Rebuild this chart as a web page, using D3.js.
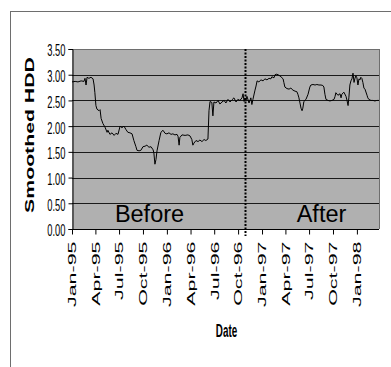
<!DOCTYPE html>
<html>
<head>
<meta charset="utf-8">
<script src="https://cdn.jsdelivr.net/npm/d3@7"></script>
<style>
  html, body { margin: 0; padding: 0; background: #fff; }
  svg { display: block; font-family: "Liberation Sans", Arial, sans-serif; }
</style>
</head>
<body>
<svg id="chart" width="391" height="367"></svg>
<script>
// Smoothed HDD series: observation dates and values
const dates = [
  "1995-01-01","1995-01-13","1995-01-24","1995-02-05","1995-02-16","1995-02-20","1995-02-24","1995-02-28",
  "1995-03-07","1995-03-15","1995-03-23","1995-03-27","1995-03-30","1995-04-03","1995-04-07","1995-04-15",
  "1995-04-19","1995-04-23","1995-04-30","1995-05-08","1995-05-16","1995-05-19","1995-05-27","1995-06-04",
  "1995-06-12","1995-06-19","1995-06-27","1995-07-05","1995-07-12","1995-07-20","1995-07-28","1995-08-04",
  "1995-08-12","1995-08-20","1995-08-27","1995-09-04","1995-09-08","1995-09-16","1995-09-23","1995-10-01",
  "1995-10-09","1995-10-16","1995-10-24","1995-11-01","1995-11-09","1995-11-12","1995-11-16","1995-11-20",
  "1995-11-24","1995-12-02","1995-12-09","1995-12-17","1995-12-25","1996-01-01","1996-01-09","1996-01-17",
  "1996-01-24","1996-02-01","1996-02-09","1996-02-13","1996-02-17","1996-02-20","1996-02-28","1996-03-11",
  "1996-03-22","1996-03-30","1996-04-06","1996-04-10","1996-04-14","1996-04-22","1996-04-30","1996-05-07",
  "1996-05-15","1996-05-23","1996-05-30","1996-06-07","1996-06-11","1996-06-15","1996-06-22","1996-06-26",
  "1996-06-30","1996-07-08","1996-07-16","1996-07-23","1996-07-31","1996-08-08","1996-08-15","1996-08-23",
  "1996-08-31","1996-09-07","1996-09-15","1996-09-23","1996-09-30","1996-10-08","1996-10-16","1996-10-20",
  "1996-10-24","1996-10-27","1996-10-31","1996-11-04","1996-11-12","1996-11-19","1996-11-23","1996-11-27",
  "1996-12-05","1996-12-09","1996-12-13","1996-12-20","1996-12-28","1997-01-05","1997-01-12","1997-01-20",
  "1997-01-28","1997-02-04","1997-02-08","1997-02-16","1997-02-20","1997-02-27","1997-03-07","1997-03-15",
  "1997-03-23","1997-03-26","1997-03-30","1997-04-07","1997-04-15","1997-04-22","1997-04-30","1997-05-08",
  "1997-05-15","1997-05-19","1997-05-23","1997-05-27","1997-05-31","1997-06-04","1997-06-07","1997-06-11",
  "1997-06-19","1997-06-27","1997-07-04","1997-07-08","1997-07-16","1997-07-24","1997-07-31","1997-08-08",
  "1997-08-16","1997-08-23","1997-08-27","1997-08-31","1997-09-04","1997-09-12","1997-09-19","1997-09-27",
  "1997-10-05","1997-10-09","1997-10-12","1997-10-20","1997-10-28","1997-11-01","1997-11-04","1997-11-12",
  "1997-11-20","1997-11-24","1997-11-28","1997-12-01","1997-12-05","1997-12-09","1997-12-13","1997-12-17",
  "1997-12-21","1997-12-24","1997-12-28","1998-01-01","1998-01-05","1998-01-09","1998-01-13","1998-01-16",
  "1998-01-20","1998-01-24","1998-01-28","1998-02-01","1998-02-09","1998-02-12","1998-02-16","1998-02-24",
  "1998-03-04","1998-03-11","1998-03-19","1998-03-27"
];
const hdd = [
  2.86,2.87,2.86,2.88,2.87,2.93,2.80,2.95,
  2.93,2.95,2.92,2.80,2.65,2.40,2.33,2.30,
  2.32,2.15,2.05,1.98,1.88,1.92,1.84,1.87,
  1.82,1.86,1.84,2.00,1.97,2.00,1.93,1.88,
  1.87,1.85,1.72,1.60,1.53,1.52,1.53,1.60,
  1.61,1.63,1.59,1.60,1.54,1.48,1.26,1.35,
  1.52,1.72,1.88,1.92,1.86,1.85,1.87,1.84,
  1.85,1.83,1.84,1.80,1.63,1.78,1.83,1.82,
  1.83,1.81,1.74,1.63,1.67,1.72,1.70,1.73,
  1.70,1.74,1.72,1.75,2.30,2.48,2.46,2.20,
  2.47,2.45,2.50,2.43,2.47,2.50,2.45,2.52,
  2.47,2.51,2.55,2.47,2.52,2.50,2.55,2.63,
  2.48,2.55,2.50,2.58,2.45,2.55,2.42,2.52,
  2.70,2.78,2.88,2.86,2.90,2.88,2.92,2.90,
  2.93,2.92,2.96,2.94,3.00,3.01,2.99,2.96,
  2.92,2.85,2.76,2.73,2.72,2.74,2.70,2.68,
  2.67,2.62,2.55,2.45,2.35,2.30,2.35,2.48,
  2.52,2.62,2.76,2.80,2.81,2.80,2.81,2.80,
  2.80,2.79,2.76,2.62,2.52,2.50,2.49,2.50,
  2.52,2.58,2.65,2.60,2.63,2.55,2.62,2.66,
  2.58,2.50,2.40,2.55,2.80,2.88,2.92,3.03,
  2.85,2.92,2.98,2.94,2.80,2.92,2.90,2.95,
  2.93,2.85,2.74,2.72,2.60,2.55,2.52,2.50,
  2.50,2.49,2.50,2.50
];
const yTicks = [0, 0.5, 1, 1.5, 2, 2.5, 3, 3.5];
const xDomain = ["1995-01-01", "1998-03-27"];
const breakDate = "1996-10-27";
const periodLabels = ["Before", "After"];
const xTitle = "Date";
const yTitle = "Smoothed HDD";

const parse = d3.timeParse("%Y-%m-%d");
const series = dates.map((d, i) => ({ date: parse(d), value: hdd[i] }));

const svg = d3.select("#chart");
const plot = { left: 72, right: 379, top: 49, bottom: 229 };

// Outer chart frame
svg.append("rect")
  .attr("x", 10.5).attr("y", 11.5)
  .attr("width", 420).attr("height", 420)
  .attr("fill", "#fff").attr("stroke", "#6e6e6e").attr("stroke-width", 1);

const x = d3.scaleTime()
  .domain(xDomain.map(parse))
  .range([plot.left, plot.right]);
const y = d3.scaleLinear()
  .domain([0, 3.5])
  .range([plot.bottom, plot.top]);

// Plot area
svg.append("rect")
  .attr("x", plot.left).attr("y", plot.top)
  .attr("width", plot.right - plot.left).attr("height", plot.bottom - plot.top)
  .attr("fill", "#b0b0b0");

// Horizontal gridlines
svg.append("g").selectAll("line")
  .data(yTicks.filter(v => v > 0))
  .join("line")
  .attr("x1", plot.left).attr("x2", plot.right)
  .attr("y1", d => Math.round(y(d)) + 0.5).attr("y2", d => Math.round(y(d)) + 0.5)
  .attr("stroke", d => d === 3.5 ? "#6e6e6e" : "#1a1a1a").attr("stroke-width", 1);

// Right border of plot area
svg.append("line")
  .attr("x1", plot.right + 0.5).attr("x2", plot.right + 0.5)
  .attr("y1", plot.top).attr("y2", plot.bottom)
  .attr("stroke", "#6e6e6e");

// Period labels
const midBefore = (plot.left + x(parse(breakDate))) / 2;
svg.append("text")
  .attr("x", 149.5).attr("y", 222)
  .attr("text-anchor", "middle")
  .attr("font-size", 23.5)
  .attr("fill", "#000")
  .text(periodLabels[0]);
svg.append("text")
  .attr("x", 321.5).attr("y", 222)
  .attr("text-anchor", "middle")
  .attr("font-size", 23.5)
  .attr("fill", "#000")
  .text(periodLabels[1]);

// Series line
const line = d3.line()
  .x(d => x(d.date))
  .y(d => y(d.value));
svg.append("path")
  .datum(series)
  .attr("d", line)
  .attr("fill", "none")
  .attr("stroke", "#000")
  .attr("stroke-width", 1)
  .attr("stroke-linejoin", "round");

// Break marker between periods
const bx = Math.round(x(parse(breakDate))) + 0.5;
svg.append("line")
  .attr("x1", bx).attr("x2", bx)
  .attr("y1", plot.top).attr("y2", plot.bottom + 7)
  .attr("stroke", "#000").attr("stroke-width", 2)
  .attr("stroke-dasharray", "2,1.5");

// Y axis
const yAxis = d3.axisLeft(y).tickValues(yTicks).tickSize(4).tickFormat(d3.format(".2f"));
const gy = svg.append("g")
  .attr("transform", `translate(${plot.left + 0.5},0)`)
  .call(yAxis);
gy.select(".domain").attr("stroke", "#000");
gy.selectAll(".tick line").attr("stroke", "#000");
gy.selectAll(".tick text").remove();
gy.selectAll(".tick").append("text")
  .attr("transform", "translate(-7,1) scale(0.85,1.55)")
  .attr("text-anchor", "end")
  .attr("dy", "0.35em")
  .attr("font-size", 11)
  .attr("fill", "#000")
  .text(d => d3.format(".2f")(d));

// X axis
const xAxis = d3.axisBottom(x)
  .ticks(d3.timeMonth.every(3))
  .tickSize(5)
  .tickFormat(d3.timeFormat("%b-%y"));
const gx = svg.append("g")
  .attr("transform", `translate(0,${plot.bottom + 0.5})`)
  .call(xAxis);
gx.select(".domain").attr("stroke", "#000").attr("d", `M${plot.left},0H${plot.right}`);
gx.selectAll(".tick line").attr("stroke", "#000");
gx.selectAll(".tick text").remove();
gx.selectAll(".tick").append("text")
  .attr("transform", "translate(0,12) rotate(-90) scale(1.95,1)")
  .attr("text-anchor", "end")
  .attr("dy", "0.35em")
  .attr("font-size", 11)
  .attr("fill", "#000")
  .text(d => d3.timeFormat("%b-%y")(d));

// Axis titles
svg.append("text")
  .attr("transform", "translate(30,135) rotate(-90) scale(1.77,1)")
  .attr("text-anchor", "middle")
  .attr("dy", "0.35em")
  .attr("font-size", 12)
  .attr("font-weight", "bold")
  .attr("fill", "#000")
  .text(yTitle);
svg.append("text")
  .attr("transform", "translate(226.5,337) scale(0.82,1.5)")
  .attr("text-anchor", "middle")
  .attr("font-size", 12)
  .attr("font-weight", "bold")
  .attr("fill", "#000")
  .text(xTitle);
</script>
</body>
</html>
